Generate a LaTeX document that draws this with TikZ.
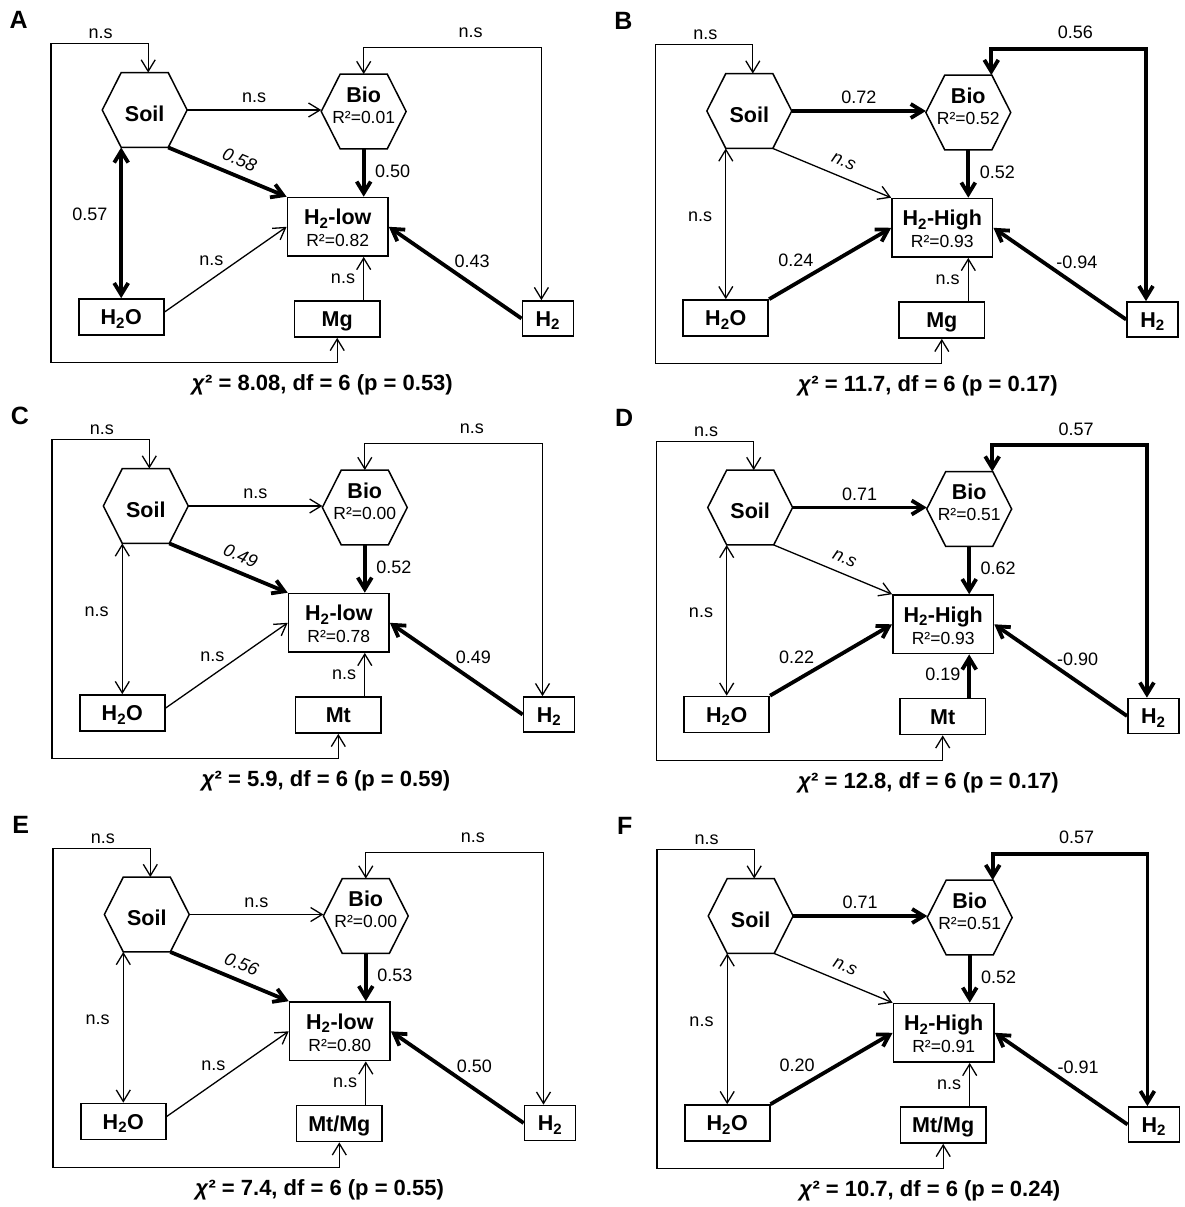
\documentclass[tikz,border=0pt]{standalone}
\usepackage{fontspec}
\setmainfont{Liberation Sans}
\usetikzlibrary{arrows.meta,calc}
\tikzset{
  >={Straight Barb[length=11.5pt,width=14pt]},
  thinline/.style={line width=1.3pt},
  boldline/.style={line width=3.8pt},
  hexline/.style={line width=1.5pt},
  hexn/.style={draw=none, inner sep=0pt, minimum width=84.5pt, minimum height=74.5pt},
  boxn/.style={draw, line width=1.7pt, inner sep=0pt},
  bigtxt/.style={font=\fontsize{21.5}{25}\selectfont\bfseries, inner sep=0pt, text height=15.4pt, text depth=0pt},
  rtxt/.style={font=\fontsize{17.5}{20}\selectfont, inner sep=0pt, text height=12.5pt, text depth=0pt},
  lbl/.style={font=\fontsize{18}{21}\selectfont, inner sep=0pt, text height=12.9pt, text depth=0pt},
  chitxt/.style={font=\fontsize{22}{26}\selectfont\bfseries, inner sep=0pt, text height=15.8pt, text depth=0pt},
  lettxt/.style={font=\fontsize{25}{30}\selectfont\bfseries, inner sep=0pt, text height=17.9pt, text depth=0pt},
}
\newcommand\hexpath[1]{%
  \draw[hexline] (#1.west) -- ($(#1.north)+(-23.5,0)$) -- ($(#1.north)+(23.5,0)$) -- (#1.east)
    -- ($(#1.south)+(23.5,0)$) -- ($(#1.south)+(-23.5,0)$) -- cycle;}
% #1 prefix, #2 #3 soil centre, #4 column (0 left, 1 right), #5 letter
\newcommand\drawpanel[5]{%
\begin{scope}[shift={(#2,#3)}]
  \ifnum#4=1 \def\landdx{23}\def\wlx{46.5}\else\def\landdx{0}\def\wlx{66.6}\fi
  \node[lettxt] (#1let) at (-126,-90) {#5};
  % nodes
  \node[hexn] (#1soil) at (0,0) {};
  \hexpath{#1soil}
  \node[bigtxt] (#1soilt) at (0,3.5) {Soil};
  \node[hexn] (#1bio) at (219,1.5) {};
  \hexpath{#1bio}
  \node[bigtxt] (#1biot) at (219,-15.5) {Bio};
  \node[rtxt] (#1bior) at (219,7.2) {R²=\pBR};
  \node[boxn, minimum width=100.5pt, minimum height=58.5pt] (#1H) at (193,116.8) {};
  \node[bigtxt] (#1Ht) at (193,107.2) {H\textsubscript{2}-\pHn};
  \node[rtxt] (#1Hr) at (193,130.4) {R²=\pHR};
  \node[boxn, bigtxt, minimum width=85pt, minimum height=36pt] (#1w) at (-23.5,207) {H\textsubscript{2}O};
  \node[boxn, bigtxt, minimum width=85.5pt, minimum height=36pt] (#1m) at (192.5,209) {\pM};
  \node[boxn, bigtxt, minimum width=51pt, minimum height=35pt] (#1h) at (403.2,208.5) {H\textsubscript{2}};
  \coordinate (#1tl) at (-93.7,-66.3);
  \coordinate (#1bl) at (-93.7,252.7);
  \coordinate (#1tr) at (396.7,-62.3);
  \ifnum#4=1 \coordinate (#1ws) at (#1w.north east);\else\coordinate (#1ws) at ($(#1w.east)+(0,-5)$);\fi
  % connectors
  \draw[thinline,<->] ($(#1soil.north)+(3.5,0)$) |- (#1tl) -- (#1bl) -| (#1m.south);
  \draw[eTR,<->] ($(#1bio.north)+(\landdx,0)$) |- (#1tr) -- ($(#1h.north)+(-6.5,0)$);
  \draw[eSB,->] (#1soil.east) -- (#1soil.east -| #1bio.west);
  \draw[eSH,->] ($(#1soil.south)+(23.5,0)$) -- (#1H.north west);
  \draw[boldline,->] (#1bio.south) -- (#1bio.south |- #1H.north);
  \draw[eSW,<->] (#1w.north) -- (#1w.north |- #1soil.south);
  \draw[eWH,->] (#1ws) -- (#1H.west);
  \draw[eMH,->] (#1m.north -| #1bio.south) -- (#1bio.south |- #1H.south);
  \draw[boldline,->] (#1h.west) -- (#1H.east);
  % labels
  \node[lbl] (#1lTL) at (-44,-77.5) {n.s};
  \node[lbl] (#1lTR) at (326,-78.5) {\lTR};
  \node[lbl] (#1lSB) at (109.5,-13.5) {\lSB};
  \node[lbl, font=\fontsize{18}{21}\selectfont\itshape, rotate=-22.8] (#1lSH) at (95,49.5) {\lSH};
  \node[lbl] (#1lBH) at (248,60.7) {\lBH};
  \node[lbl, anchor=east] (#1lSW) at (-37,104) {\lSW};
  \node[lbl] (#1lWH) at (\wlx,149.5) {\lWH};
  \node[lbl, anchor=east] (#1lMH) at (210.5,167) {\lMH};
  \node[lbl] (#1lHH) at (327.5,151.5) {\lHH};
  \node[chitxt] (#1chi) at (\pCX,273) {\textit{χ}² = \pChi};
\end{scope}}

\begin{document}
\begin{tikzpicture}[x=1pt,y=-1pt]
\fill[white] (0,0) rectangle (1185,1207);
\useasboundingbox (0,0) rectangle (1185,1207);

% ---------- A ----------
\def\pBR{0.01}\def\pHn{low}\def\pHR{0.82}\def\pM{Mg}\def\pChi{8.08, df = 6 (p = 0.53)}\def\pCX{177.7}
\def\lTR{n.s}\def\lSB{n.s}\def\lSH{0.58}\def\lBH{0.50}\def\lSW{0.57}\def\lWH{n.s}\def\lMH{n.s}\def\lHH{0.43}
\tikzset{eTR/.style=thinline,eSB/.style=thinline,eSH/.style=boldline,eSW/.style=boldline,eWH/.style=thinline,eMH/.style=thinline}
\drawpanel{a}{144.7}{110}{0}{A}

% ---------- B ----------
\def\pBR{0.52}\def\pHn{High}\def\pHR{0.93}\def\pM{Mg}\def\pChi{11.7, df = 6 (p = 0.17)}\def\pCX{178.7}
\def\lTR{0.56}\def\lSB{0.72}\def\lSH{n.s}\def\lBH{0.52}\def\lSW{n.s}\def\lWH{0.24}\def\lMH{n.s}\def\lHH{-0.94}
\tikzset{eTR/.style=boldline,eSB/.style=boldline,eSH/.style=thinline,eSW/.style=thinline,eWH/.style=boldline,eMH/.style=thinline}
\drawpanel{b}{749.3}{111}{1}{B}

% ---------- C ----------
\def\pBR{0.00}\def\pHn{low}\def\pHR{0.78}\def\pM{Mt}\def\pChi{5.9, df = 6 (p = 0.59)}\def\pCX{180}
\def\lTR{n.s}\def\lSB{n.s}\def\lSH{0.49}\def\lBH{0.52}\def\lSW{n.s}\def\lWH{n.s}\def\lMH{n.s}\def\lHH{0.49}
\tikzset{eTR/.style=thinline,eSB/.style=thinline,eSH/.style=boldline,eSW/.style=thinline,eWH/.style=thinline,eMH/.style=thinline}
\drawpanel{c}{145.8}{506}{0}{C}

% ---------- D ----------
\def\pBR{0.51}\def\pHn{High}\def\pHR{0.93}\def\pM{Mt}\def\pChi{12.8, df = 6 (p = 0.17)}\def\pCX{178.2}
\def\lTR{0.57}\def\lSB{0.71}\def\lSH{n.s}\def\lBH{0.62}\def\lSW{n.s}\def\lWH{0.22}\def\lMH{0.19}\def\lHH{-0.90}
\tikzset{eTR/.style=boldline,eSB/.style=boldline,eSH/.style=thinline,eSW/.style=thinline,eWH/.style=boldline,eMH/.style=boldline}
\drawpanel{d}{750.2}{507.5}{1}{D}

% ---------- E ----------
\def\pBR{0.00}\def\pHn{low}\def\pHR{0.80}\def\pM{Mt/Mg}\def\pChi{7.4, df = 6 (p = 0.55)}\def\pCX{172.8}
\def\lTR{n.s}\def\lSB{n.s}\def\lSH{0.56}\def\lBH{0.53}\def\lSW{n.s}\def\lWH{n.s}\def\lMH{n.s}\def\lHH{0.50}
\tikzset{eTR/.style=thinline,eSB/.style=thinline,eSH/.style=boldline,eSW/.style=thinline,eWH/.style=thinline,eMH/.style=thinline}
\drawpanel{e}{146.8}{914.5}{0}{E}

% ---------- F ----------
\def\pBR{0.51}\def\pHn{High}\def\pHR{0.91}\def\pM{Mt/Mg}\def\pChi{10.7, df = 6 (p = 0.24)}\def\pCX{179}
\def\lTR{0.57}\def\lSB{0.71}\def\lSH{n.s}\def\lBH{0.52}\def\lSW{n.s}\def\lWH{0.20}\def\lMH{n.s}\def\lHH{-0.91}
\tikzset{eTR/.style=boldline,eSB/.style=boldline,eSH/.style=thinline,eSW/.style=thinline,eWH/.style=boldline,eMH/.style=thinline}
\drawpanel{f}{750.7}{916}{1}{F}

\end{tikzpicture}
\end{document}
